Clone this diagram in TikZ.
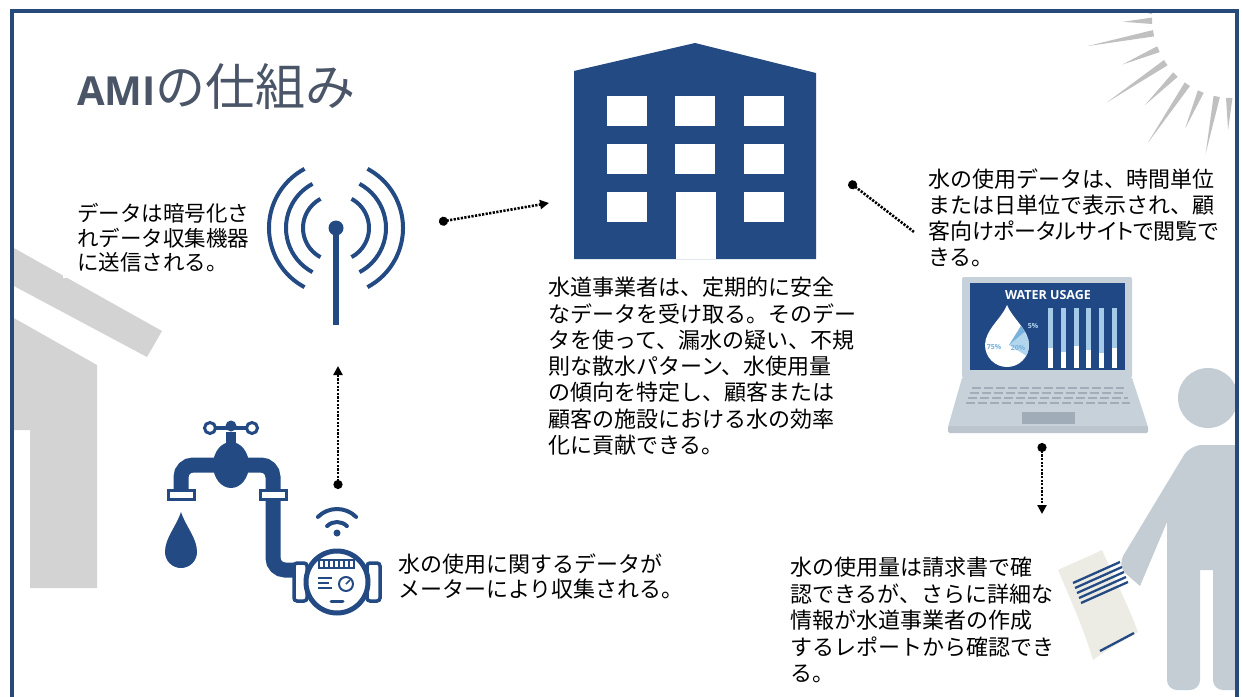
\documentclass[tikz,border=0pt]{standalone}
\usepackage{fontspec}
\newfontfamily\jp{Noto Sans CJK JP}
\newfontfamily\jpprop[RawFeature=+palt]{Noto Sans CJK JP}
\newfontfamily\latinsans{Open Sans}
\usetikzlibrary{arrows.meta}

\definecolor{navy}{RGB}{35,74,131}
\definecolor{framecol}{RGB}{40,74,122}
\definecolor{titlecol}{RGB}{74,85,104}
\definecolor{housegray}{RGB}{211,211,211}
\definecolor{raygray}{RGB}{192,192,192}
\definecolor{persongray}{RGB}{196,205,212}
\definecolor{lapgray}{RGB}{199,209,217}
\definecolor{lapdark}{RGB}{160,172,184}
\definecolor{screenblue}{RGB}{31,72,132}
\definecolor{barblue}{RGB}{166,203,232}
\definecolor{dropblue}{RGB}{178,214,238}
\definecolor{dropmid}{RGB}{120,178,220}
\definecolor{paper}{RGB}{236,236,229}

\begin{document}
\begin{tikzpicture}[x=1pt, y=-1pt,
    every node/.style={inner sep=0pt},
    note/.style={anchor=north west, align=left, fill=white, inner sep=2pt,
        font=\jp\fontsize{22}{26}\selectfont},
    link/.style={line width=2.6pt, dash pattern=on 2.2pt off 1.4pt,
        {Circle[length=9pt]}-{Triangle[length=9pt,width=9pt]}},
    pipe/.style={navy, line width=15pt, rounded corners=12pt},
    flange/.style={fill=white, draw=navy, line width=3pt},
    ring/.style={navy, line width=4pt, line cap=round},
    sunray/.style={fill=raygray},
    pct/.style={font=\latinsans\bfseries\fontsize{7}{7}\selectfont},
]
\useasboundingbox (0,0) rectangle (1242,696);
\clip (0,0) rectangle (1242,696);
\fill[white] (0,0) rectangle (1242,696);

% house in the background
\fill[housegray] (12,247) -- (162,331) -- (147,357) -- (12,285) -- cycle;
\fill[housegray] (12,317) -- (97,365) -- (97,588) -- (30,588) -- (30,430) -- (12,430) -- cycle;

% sun rays in the corner
\begin{scope}
  \clip (12,11) rectangle (1237,700);
  \coordinate (sun) at (1232,18);
  \foreach \a/\r in {185/97, 178/109, 169/147, 157/119, 146/151,
                     135/123, 124/151, 113/120, 101/138, 92/112}
    \fill[sunray] ([shift={(\a+2.3:80)}]sun) -- ([shift={(\a:\r)}]sun)
        -- ([shift={(\a-2.3:80)}]sun) -- cycle;
\end{scope}

% title
\node[anchor=base west, text=titlecol] (title) at (77,105)
    {{\latinsans\bfseries\fontsize{40}{40}\selectfont AMI}{\jp\fontsize{50}{50}\selectfont の仕組み}};

% antenna
\coordinate (ant) at (336,228);
\draw[navy, line width=6pt] (ant) -- (336,325);
\fill[navy] (ant) circle (7.5);
\foreach \r in {33,50,67} {
  \draw[navy, line width=4pt] ([shift={(118:\r)}]ant) arc[start angle=118, end angle=242, radius=\r];
  \draw[navy, line width=4pt] ([shift={(-62:\r)}]ant) arc[start angle=-62, end angle=62, radius=\r];
}

% utility building
\fill[navy] (574,259) -- (574,71) -- (695,43) -- (816,73) -- (816,259) -- cycle;
\foreach \x in {607,675,744}
  \foreach \y in {96,144,192}
    \fill[white] (\x,\y) rectangle (\x+40,\y+30);
\fill[navy] (675,192) rectangle (715,222);
\fill[white] (676,192) rectangle (716,259);

% faucet
\draw[pipe] (181,493) -- (181,465) -- (273,465) -- (273,570) -- (302,570);
\fill[navy] (231,465) ellipse [x radius=18, y radius=23];
\fill[navy] (226,432) rectangle (236,446);
\draw[navy, line width=3.5pt] (214,428) -- (248,428);
\fill[navy] (231,426) circle (5.5);
\filldraw[flange] (210,428) circle (5.5);
\filldraw[flange] (252,428) circle (5.5);
\filldraw[flange] (168,490) rectangle (194,499);
\filldraw[flange] (260,490) rectangle (286,499);
\fill[navy] (181,512) .. controls (186,527) and (197,538) .. (197,552)
    arc[start angle=0, end angle=180, radius=16]
    .. controls (165,538) and (176,527) .. (181,512) -- cycle;

% water meter
\coordinate (meter) at (337,582);
\filldraw[flange, line width=3.5pt, rounded corners=3pt] (294,563) rectangle (307,601);
\filldraw[flange, line width=3.5pt, rounded corners=3pt] (367,563) rectangle (380,601);
\filldraw[flange, line width=5pt] (meter) circle (31);
\draw[navy, line width=1.5pt] (319,560) rectangle (354,568);
\foreach \x in {324,329,334,339,344,349}
  \draw[navy, line width=1.2pt] (\x,560) -- (\x,568);
\draw[navy, line width=2pt] (318,578) -- (332,578) (318,583) -- (329,583) (318,588) -- (332,588);
\draw[navy, line width=2pt] (346,584) circle (7);
\draw[navy, line width=1.5pt] (346,584) -- (350,580);
\draw[navy, line width=3pt, line cap=round] (331,601) -- (343,601);

% wireless mark over the meter
\fill[navy] (337,533) circle (3.5);
\foreach \r in {14,27}
  \draw[ring] ([shift={(225:\r)}]337,536) arc[start angle=225, end angle=315, radius=\r];

% laptop with usage screen
\fill[lapgray, rounded corners=2pt] (962,277) rectangle (1132,378);
\fill[screenblue] (970,283) rectangle (1125,370);
\fill[lapgray] (962,378) -- (1132,378) -- (1148,427) -- (948,427) -- cycle;
\fill[lapdark!70, rounded corners=1.5pt] (948,426) rectangle (1148,433);
\foreach \y/\a/\b in {388/972/1124, 393/970/1126, 398/968/1128, 403/966/1130}
  \draw[lapdark, line width=2pt, dash pattern=on 9pt off 3pt] (\a,\y) -- (\b,\y);
\fill[lapdark] (1022,412) rectangle (1075,424);
\node[text=white, font=\latinsans\bfseries\fontsize{12.5}{12.5}\selectfont] (usage) at (1048,295) {WATER USAGE};
\begin{scope}
  \clip (1007,305) .. controls (1012,318) and (1029,330) .. (1029,345)
      arc[start angle=0, end angle=180, radius=22]
      .. controls (985,330) and (1002,318) .. (1007,305) -- cycle;
  \fill[white] (980,300) rectangle (1035,370);
  \fill[dropblue] (1009,345) -- +(-40:40) -- +(0:40) -- +(32:40) -- cycle;
  \fill[dropmid] (1009,345) -- +(-58:40) -- +(-40:40) -- cycle;
\end{scope}
\node[pct, text=dropmid] (pct75) at (994,347) {75\%};
\node[pct, text=dropmid] (pct20) at (1018,348) {20\%};
\node[pct, text=dropblue] (pct5) at (1033,326) {5\%};
\foreach \x/\lv in {1050/348, 1063/352, 1076/346, 1088/350, 1101/353, 1114/348} {
  \fill[barblue] (\x-2.5,308) rectangle (\x+2.5,\lv);
  \fill[white] (\x-2.5,\lv) rectangle (\x+2.5,368);
}

% customer holding a bill
\begin{scope}
  \clip (12,11) rectangle (1236,700);
  \fill[persongray] (1208,398) circle (30);
  \fill[persongray] (1250,445) [rounded corners=12pt] -- (1190,445) -- (1117,566)
      [sharp corners] -- (1140,586) -- (1167,522) [rounded corners=10pt] -- (1167,690)
      -- (1200,690) [sharp corners] -- (1200,570) -- (1213,570)
      [rounded corners=10pt] -- (1213,690) -- (1250,690) [sharp corners] -- cycle;
\end{scope}
\fill[paper] (1058,570) .. controls (1075,562) and (1090,556) .. (1102,550)
    .. controls (1115,580) and (1128,605) .. (1138,632)
    .. controls (1122,642) and (1106,650) .. (1093,660)
    .. controls (1085,632) and (1070,598) .. (1058,570) -- cycle;
\foreach \i in {0,...,4}
  \draw[navy, line width=2.3pt] (1073+2*\i,583+5*\i) -- (1120+2*\i,562+5*\i);
\draw[navy, line width=2.3pt] (1100,651) -- (1134,633);

% explanations
\node[note, inner xsep=14pt, inner ysep=6pt, font=\jp\fontsize{21.5}{24.5}\selectfont] (sendnote) at (63,197)
    {データは暗号化さ\\れデータ収集機器\\に送信される。};
\node[note, font=\jp\fontsize{22}{26.3}\selectfont] (utilnote) at (546,275)
    {水道事業者は、定期的に安全\\なデータを受け取る。そのデー\\タを使って、漏水の疑い、不規\\則な散水パターン、水使用量\\の傾向を特定し、顧客または\\顧客の施設における水の効率\\化に貢献できる。};
\node[note, font=\jp\fontsize{22}{25.7}\selectfont] (portalnote) at (926,167)
    {水の使用データは、時間単位\\または日単位で表示され、顧\\{\jpprop 客向けポータルサイトで閲覧で}\\きる。};
\node[note, font=\jp\fontsize{22}{25}\selectfont] (meternote) at (396,552)
    {水の使用に関するデータが\\メーターにより収集される。};
\node[note, font=\jp\fontsize{22}{26.5}\selectfont] (billnote) at (788,555)
    {水の使用量は請求書で確\\認できるが、さらに詳細な\\情報が水道事業者の作成\\するレポートから確認でき\\る。};

% data flow
\coordinate (ant-out) at (439,222);
\coordinate (bldg-in) at (549,203);
\coordinate (bldg-out) at (849,182);
\coordinate (portal-in) at (914,232);
\coordinate (meter-out) at (338,489);
\coordinate (ant-in) at (338,366);
\coordinate (lap-out) at (1042,443);
\coordinate (bill-in) at (1042,514);
\draw[link] (ant-out) -- (bldg-in);
\draw[link, {Circle[length=9pt]}-] (bldg-out) -- (portal-in);
\draw[link] (meter-out) -- (ant-in);
\draw[link] (lap-out) -- (bill-in);

% frame
\draw[framecol, line width=3.5pt] (12,700) -- (12,11) -- (1237,11) -- (1237,700);
\end{tikzpicture}
\end{document}
